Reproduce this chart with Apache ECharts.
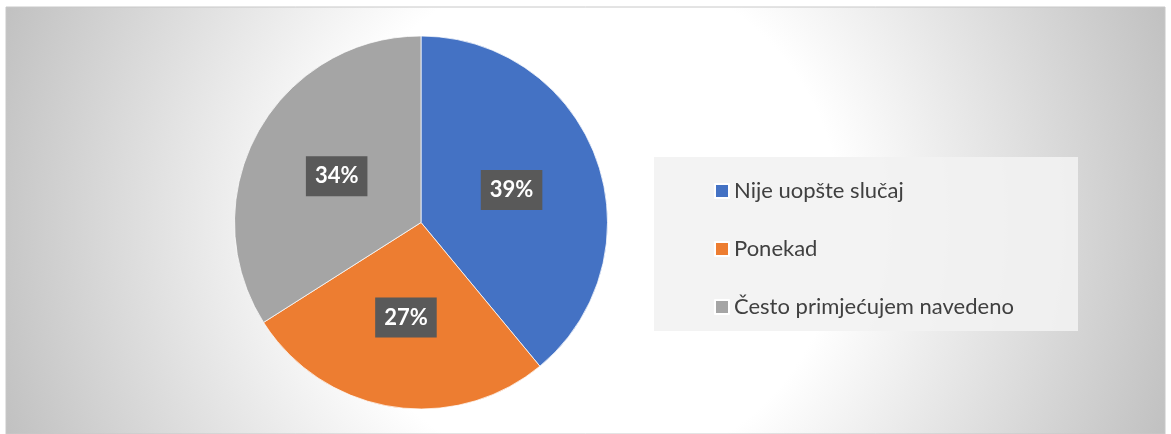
<!DOCTYPE html>
<html style="height: 100%">
   <head>
       <meta charset="utf-8">
       <script src="https://cdn.jsdelivr.net/npm/echarts@6/dist/echarts.min.js"></script>
       <title>Pie</title>
   </head>
   <body style="height: 100%; margin: 0; background: #fff">
       <div id="container" style="width: 1171px; height: 434px"></div>
       <script type="text/javascript">

let categories = ['Nije uopšte slučaj', 'Ponekad', 'Često primjećujem navedeno']
let values = [39, 27, 34]
let colors = ['#4472c4', '#ed7d31', '#a5a5a5']

let pieData = categories.map((name, i) => ({name: name, value: values[i]}))

let dom = document.getElementById("container")
let chart = echarts.init(dom)
chart.setOption({
    animation: false,
    color: colors,
    graphic: [
        {
            type: 'rect', z: -10, silent: true,
            shape: {x: 6, y: 7, width: 1159, height: 427},
            style: {
                fill: {
                    type: 'radial', x: 585, y: 220, r: 640, global: true,
                    colorStops: [
                        {offset: 0, color: '#ffffff'},
                        {offset: 0.4, color: '#ffffff'},
                        {offset: 1, color: '#bdbdbd'}
                    ]
                },
                stroke: '#c8c8c8', lineWidth: 1
            }
        },
        {
            type: 'rect', z: -5, silent: true,
            shape: {x: 654, y: 157, width: 424, height: 174},
            style: {fill: 'rgba(242,242,242,0.9)'}
        }
    ],
    legend: {
        orient: 'vertical',
        left: 709,
        top: 175,
        padding: 5,
        icon: 'rect',
        itemWidth: 14,
        itemHeight: 14,
        itemGap: 36,
        data: categories,
        textStyle: {
            color: '#404040',
            fontSize: 22,
            lineHeight: 14,
            fontFamily: 'Lato'
        }
    },
    series: [
        {
            type: 'pie',
            center: [421, 222.5],
            radius: 186.5,
            startAngle: 90,
            data: pieData,
            itemStyle: {borderColor: '#ffffff', borderWidth: 0.75},
            label: {
                show: true,
                position: 'inside',
                formatter: '{d}%',
                color: '#ffffff',
                fontWeight: 'bold',
                fontSize: 22,
                fontFamily: 'Lato',
                backgroundColor: '#595959',
                padding: [10, 9, 8, 9]
            },
            labelLine: {show: false},
            emphasis: {disabled: true}
        }
    ]
})

       </script>
   </body>
</html>
